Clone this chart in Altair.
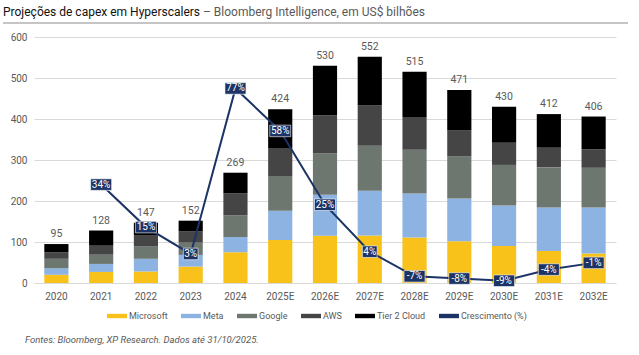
import altair as alt
import pandas as pd

years = ["2020", "2021", "2022", "2023", "2024", "2025E", "2026E", "2027E",
         "2028E", "2029E", "2030E", "2031E", "2032E"]
series = ["Microsoft", "Meta", "Google", "AWS", "Tier 2 Cloud"]
microsoft = [20, 27, 28, 40, 75, 105, 115, 116, 111, 102, 90, 78, 72]
meta = [16, 19.5, 31, 28.5, 37, 71, 100, 109, 107, 104, 99, 106, 112]
google = [23, 22.5, 31, 30, 53, 85, 101, 110, 107, 103, 99, 98, 97]
aws = [16, 22, 27, 28, 54, 68, 93, 98, 80, 63, 54, 48, 45]
tier2 = [20, 37, 30, 25.5, 50, 95, 121, 119, 110, 99, 88, 82, 80]
totals = [95, 128, 147, 152, 269, 424, 530, 552, 515, 471, 430, 412, 406]
growth_years = years[1:]
growth = [34, 15, 3, 77, 58, 25, 4, -7, -8, -9, -4, -1]

colors = ["#F8C21A", "#8DB3E2", "#6D7770", "#454545", "#000000", "#1C3366"]
navy = "#1C3366"
legend_domain = series + ["Crescimento (%)"]

values = [microsoft, meta, google, aws, tier2]
rows = []
for si, (name, vals) in enumerate(zip(series, values)):
    for yi, y in enumerate(years):
        rows.append({"year": y, "serie": name, "idx": si, "v": vals[yi]})
bars_df = pd.DataFrame(rows)
tot_df = pd.DataFrame({"year": years, "total": totals})
g_df = pd.DataFrame({"year": growth_years, "g": growth})
g_df["label"] = [f"{v}%" for v in growth]
g_df["box"] = ["M-0.7,-0.55H0.7V0.55H-0.7Z" if len(s) <= 2 else "M-1,-0.55H1V0.55H-1Z"
               for s in g_df["label"]]

xenc = alt.X("year:N", sort=years, title=None,
             scale=alt.Scale(paddingInner=0.46, paddingOuter=0.23),
             axis=alt.Axis(labelAngle=0, ticks=False, domain=False, labelPadding=8,
                           labelFontSize=10, labelColor="#595959"))

bars = alt.Chart(bars_df).mark_bar().encode(
    x=xenc,
    y=alt.Y("v:Q", stack="zero", title=None,
            scale=alt.Scale(domain=[0, 600], nice=False),
            axis=alt.Axis(values=[0, 100, 200, 300, 400, 500, 600], ticks=False, domain=False,
                          labelPadding=7, labelFontSize=10, labelColor="#595959",
                          gridColor="#D9D9D9")),
    color=alt.Color("serie:N", scale=alt.Scale(domain=legend_domain, range=colors),
                    legend=alt.Legend(title=None, orient="none", direction="horizontal",
                                      legendX=73, legendY=269, columns=6,
                                      symbolType="M-1,-0.22H1V0.22H-1Z", symbolSize=400,
                                      symbolStrokeWidth=0, labelFontSize=9,
                                      labelColor="#595959", labelOffset=2,
                                      columnPadding=13)),
    order=alt.Order("idx:Q", sort="ascending"),
)

tot_text = alt.Chart(tot_df).mark_text(baseline="bottom", dy=-5, fontSize=10.5,
                                       color="#595959").encode(
    x=alt.X("year:N", sort=years),
    y=alt.Y("total:Q"),
    text=alt.Text("total:Q"),
)

title1 = alt.Chart(pd.DataFrame({"t": ["Projeções de capex em Hyperscalers"]})).mark_text(
    align="left", baseline="middle", fontSize=12, color="#111111"
).encode(text="t:N", x=alt.value(-31), y=alt.value(-25))
title2 = alt.Chart(pd.DataFrame({"t": ["– Bloomberg Intelligence, em US$ bilhões"]})).mark_text(
    align="left", baseline="middle", fontSize=12, color="#595959"
).encode(text="t:N", x=alt.value(169), y=alt.value(-25))
title_rule = alt.Chart(pd.DataFrame({"a": [0]})).mark_rule(color="#8C8C8C", strokeWidth=1.2).encode(
    x=alt.value(-31), x2=alt.value(594), y=alt.value(-14))
footer = alt.Chart(pd.DataFrame({"t": ["Fontes: Bloomberg, XP Research. Dados até 31/10/2025."]})).mark_text(
    align="left", baseline="middle", fontSize=9.5, fontStyle="italic", color="#595959"
).encode(text="t:N", x=alt.value(-9), y=alt.value(303))

left = alt.layer(bars, tot_text, title1, title2, title_rule, footer)

gy = alt.Y("g:Q", scale=alt.Scale(domain=[-10, 100], nice=False), axis=None)
line = alt.Chart(g_df).mark_line(color=navy, strokeWidth=2).encode(
    x=alt.X("year:N", sort=years), y=gy)
boxes = alt.Chart(g_df).mark_point(filled=True, color=navy, opacity=1, stroke="white",
                                   strokeWidth=0.6, size=441).encode(
    x=alt.X("year:N", sort=years), y=gy, shape=alt.Shape("box:N", scale=None))
gtext = alt.Chart(g_df).mark_text(color="white", fontSize=10, baseline="middle").encode(
    x=alt.X("year:N", sort=years), y=gy, text="label:N")
right = alt.layer(line, boxes, gtext)

chart = alt.layer(left, right).resolve_scale(y="independent").properties(
    width=582, height=246,
    autosize=alt.AutoSizeParams(type="none"),
    padding={"left": 34, "top": 37, "right": 23, "bottom": 72},
).configure(font="Roboto", background="white").configure_view(stroke=None)

chart.save("out.html", embed_options={"renderer": "svg", "actions": False})
